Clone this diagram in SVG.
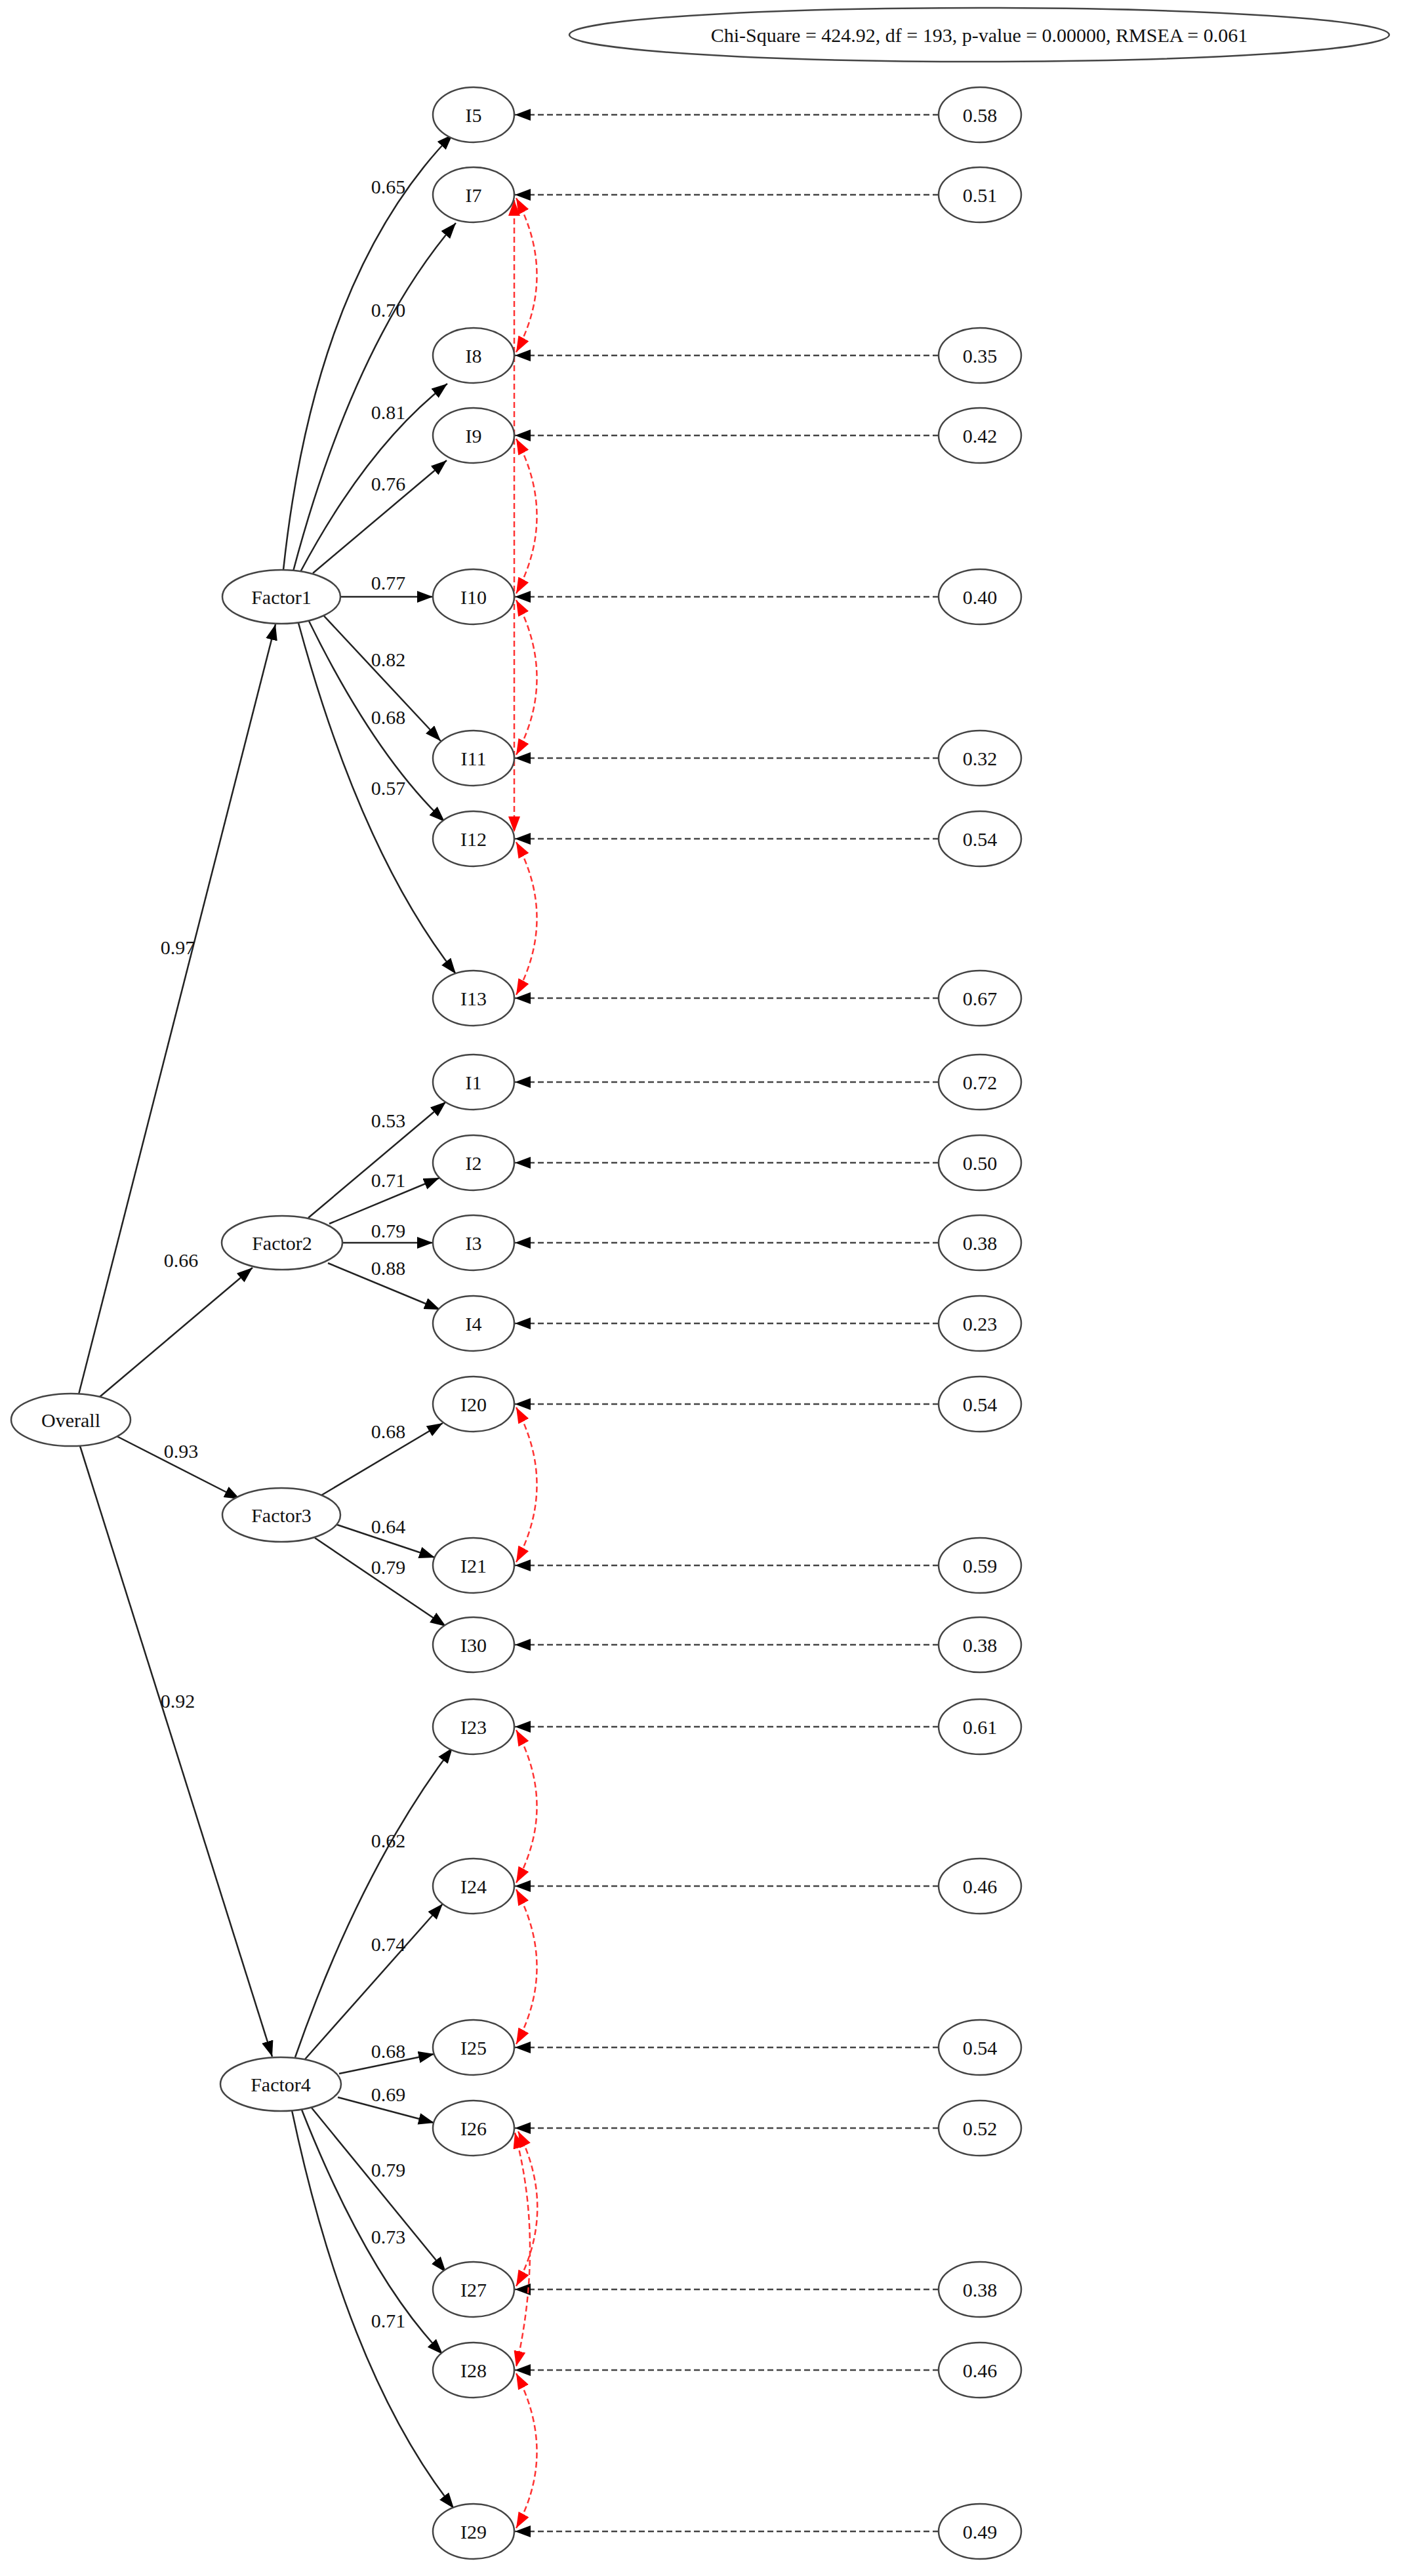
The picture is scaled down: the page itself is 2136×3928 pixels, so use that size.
<svg xmlns="http://www.w3.org/2000/svg" width="2136" height="3928" viewBox="0 0 2136 3928">
<defs>
<style>
.n ellipse{fill:#fff;stroke:#444;stroke-width:2.5}
text{font-family:"Liberation Serif","Times New Roman",serif;font-size:30px;fill:#111;text-anchor:middle;dominant-baseline:central}
.e path{fill:none;stroke:#222;stroke-width:2.5;marker-end:url(#a)}
.r path{fill:none;stroke:#444;stroke-width:2.5;stroke-dasharray:9,5;marker-end:url(#a)}
.c path{fill:none;stroke:#f33;stroke-width:2.5;stroke-dasharray:9,5;marker-end:url(#ar);marker-start:url(#ar)}
</style>
<marker id="a" markerUnits="userSpaceOnUse" markerWidth="26" markerHeight="20" refX="24" refY="9" orient="auto"><path d="M0,0 L24,9 L0,18 z" fill="#000"/></marker>
<marker id="ar" markerUnits="userSpaceOnUse" markerWidth="26" markerHeight="20" refX="24" refY="9" orient="auto-start-reverse"><path d="M0,0 L24,9 L0,18 z" fill="#f00"/></marker>
</defs>
<rect width="2136" height="3928" fill="#fff"/>
<g id="header" class="n"><ellipse cx="1493" cy="53" rx="625" ry="41"/><text x="1493" y="53">Chi-Square = 424.92, df = 193, p-value = 0.00000, RMSEA = 0.061</text></g>
<g id="connectors">
<g class="e">
<path d="M120 2126 L420 952"/>
<path d="M152 2130 L385 1933"/>
<path d="M178 2190 L366 2286"/>
<path d="M122 2205 L415 3136"/>
<path d="M432 869 Q480 420 690 205"/>
<path d="M447 871 Q540 520 695 340"/>
<path d="M458 872 Q560 680 682 585"/>
<path d="M477 874 L681 702"/>
<path d="M519 910 L660 910"/>
<path d="M490 935 L672 1130"/>
<path d="M470 945 Q570 1150 678 1253"/>
<path d="M455 950 Q550 1300 695 1485"/>
<path d="M470 1857 L680 1680"/>
<path d="M502 1866 L670 1796"/>
<path d="M520 1895 L660 1895"/>
<path d="M500 1926 L671 1997"/>
<path d="M490 2280 L675 2170"/>
<path d="M514 2325 L663 2375"/>
<path d="M480 2345 L680 2480"/>
<path d="M450 3137 Q550 2850 690 2665"/>
<path d="M465 3140 L675 2903"/>
<path d="M517 3162 L662 3132"/>
<path d="M515 3198 L662 3237"/>
<path d="M475 3214 L680 3465"/>
<path d="M460 3217 Q560 3470 675 3590"/>
<path d="M445 3218 Q530 3620 692 3825"/>
</g>
<g class="r">
<path d="M1431 175 L785 175"/><path d="M1431 297 L785 297"/><path d="M1431 542 L785 542"/><path d="M1431 664 L785 664"/><path d="M1431 910 L785 910"/><path d="M1431 1156 L785 1156"/><path d="M1431 1279 L785 1279"/><path d="M1431 1522 L785 1522"/><path d="M1431 1650 L785 1650"/><path d="M1431 1773 L785 1773"/><path d="M1431 1895 L785 1895"/><path d="M1431 2018 L785 2018"/><path d="M1431 2141 L785 2141"/><path d="M1431 2387 L785 2387"/><path d="M1431 2508 L785 2508"/><path d="M1431 2633 L785 2633"/><path d="M1431 2876 L785 2876"/><path d="M1431 3122 L785 3122"/><path d="M1431 3245 L785 3245"/><path d="M1431 3491 L785 3491"/><path d="M1431 3614 L785 3614"/><path d="M1431 3860 L785 3860"/>
</g>
<g class="c">
<path d="M787 302 Q850 420 787 537"/>
<path d="M784 305 L784 1269"/>
<path d="M787 669 Q850 787 787 905"/>
<path d="M787 915 Q850 1035 787 1151"/>
<path d="M787 1284 Q850 1400 787 1517"/>
<path d="M787 2146 Q850 2264 787 2382"/>
<path d="M787 2638 Q850 2755 787 2871"/>
<path d="M787 2881 Q850 3000 787 3117"/>
<path d="M790 3250 Q850 3370 787 3486"/>
<path d="M785 3252 Q830 3420 787 3609"/>
<path d="M787 3619 Q850 3740 787 3855"/>
</g>
</g>
<g id="labels">
<text x="271" y="1444">0.97</text><text x="276" y="1921">0.66</text><text x="276" y="2212">0.93</text><text x="271" y="2593">0.92</text>
<text x="592" y="284">0.65</text><text x="592" y="472">0.70</text><text x="592" y="628">0.81</text><text x="592" y="737">0.76</text><text x="592" y="888">0.77</text><text x="592" y="1005">0.82</text><text x="592" y="1093">0.68</text><text x="592" y="1201">0.57</text>
<text x="592" y="1708">0.53</text><text x="592" y="1799">0.71</text><text x="592" y="1876">0.79</text><text x="592" y="1933">0.88</text>
<text x="592" y="2182">0.68</text><text x="592" y="2327">0.64</text><text x="592" y="2389">0.79</text>
<text x="592" y="2806">0.62</text><text x="592" y="2964">0.74</text><text x="592" y="3127">0.68</text><text x="592" y="3193">0.69</text><text x="592" y="3308">0.79</text><text x="592" y="3410">0.73</text><text x="592" y="3538">0.71</text>
</g>
<g id="Overall" class="n"><ellipse cx="108" cy="2165" rx="91" ry="40"/><text x="108" y="2165">Overall</text></g>
<g id="Factor1" class="n"><ellipse cx="429" cy="910" rx="90" ry="41"/><text x="429" y="910">Factor1</text></g>
<g id="Factor2" class="n"><ellipse cx="430" cy="1895" rx="92" ry="41"/><text x="430" y="1895">Factor2</text></g>
<g id="Factor3" class="n"><ellipse cx="429" cy="2310" rx="90" ry="41"/><text x="429" y="2310">Factor3</text></g>
<g id="Factor4" class="n"><ellipse cx="428" cy="3178" rx="92" ry="41"/><text x="428" y="3178">Factor4</text></g>
<g id="I5" class="n"><ellipse cx="722" cy="175" rx="62" ry="42"/><text x="722" y="175">I5</text></g>
<g id="I7" class="n"><ellipse cx="722" cy="297" rx="62" ry="42"/><text x="722" y="297">I7</text></g>
<g id="I8" class="n"><ellipse cx="722" cy="542" rx="62" ry="42"/><text x="722" y="542">I8</text></g>
<g id="I9" class="n"><ellipse cx="722" cy="664" rx="62" ry="42"/><text x="722" y="664">I9</text></g>
<g id="I10" class="n"><ellipse cx="722" cy="910" rx="62" ry="42"/><text x="722" y="910">I10</text></g>
<g id="I11" class="n"><ellipse cx="722" cy="1156" rx="62" ry="42"/><text x="722" y="1156">I11</text></g>
<g id="I12" class="n"><ellipse cx="722" cy="1279" rx="62" ry="42"/><text x="722" y="1279">I12</text></g>
<g id="I13" class="n"><ellipse cx="722" cy="1522" rx="62" ry="42"/><text x="722" y="1522">I13</text></g>
<g id="I1" class="n"><ellipse cx="722" cy="1650" rx="62" ry="42"/><text x="722" y="1650">I1</text></g>
<g id="I2" class="n"><ellipse cx="722" cy="1773" rx="62" ry="42"/><text x="722" y="1773">I2</text></g>
<g id="I3" class="n"><ellipse cx="722" cy="1895" rx="62" ry="42"/><text x="722" y="1895">I3</text></g>
<g id="I4" class="n"><ellipse cx="722" cy="2018" rx="62" ry="42"/><text x="722" y="2018">I4</text></g>
<g id="I20" class="n"><ellipse cx="722" cy="2141" rx="62" ry="42"/><text x="722" y="2141">I20</text></g>
<g id="I21" class="n"><ellipse cx="722" cy="2387" rx="62" ry="42"/><text x="722" y="2387">I21</text></g>
<g id="I30" class="n"><ellipse cx="722" cy="2508" rx="62" ry="42"/><text x="722" y="2508">I30</text></g>
<g id="I23" class="n"><ellipse cx="722" cy="2633" rx="62" ry="42"/><text x="722" y="2633">I23</text></g>
<g id="I24" class="n"><ellipse cx="722" cy="2876" rx="62" ry="42"/><text x="722" y="2876">I24</text></g>
<g id="I25" class="n"><ellipse cx="722" cy="3122" rx="62" ry="42"/><text x="722" y="3122">I25</text></g>
<g id="I26" class="n"><ellipse cx="722" cy="3245" rx="62" ry="42"/><text x="722" y="3245">I26</text></g>
<g id="I27" class="n"><ellipse cx="722" cy="3491" rx="62" ry="42"/><text x="722" y="3491">I27</text></g>
<g id="I28" class="n"><ellipse cx="722" cy="3614" rx="62" ry="42"/><text x="722" y="3614">I28</text></g>
<g id="I29" class="n"><ellipse cx="722" cy="3860" rx="62" ry="42"/><text x="722" y="3860">I29</text></g>
<g id="e5" class="n"><ellipse cx="1494" cy="175" rx="63" ry="42"/><text x="1494" y="175">0.58</text></g>
<g id="e7" class="n"><ellipse cx="1494" cy="297" rx="63" ry="42"/><text x="1494" y="297">0.51</text></g>
<g id="e8" class="n"><ellipse cx="1494" cy="542" rx="63" ry="42"/><text x="1494" y="542">0.35</text></g>
<g id="e9" class="n"><ellipse cx="1494" cy="664" rx="63" ry="42"/><text x="1494" y="664">0.42</text></g>
<g id="e10" class="n"><ellipse cx="1494" cy="910" rx="63" ry="42"/><text x="1494" y="910">0.40</text></g>
<g id="e11" class="n"><ellipse cx="1494" cy="1156" rx="63" ry="42"/><text x="1494" y="1156">0.32</text></g>
<g id="e12" class="n"><ellipse cx="1494" cy="1279" rx="63" ry="42"/><text x="1494" y="1279">0.54</text></g>
<g id="e13" class="n"><ellipse cx="1494" cy="1522" rx="63" ry="42"/><text x="1494" y="1522">0.67</text></g>
<g id="e1" class="n"><ellipse cx="1494" cy="1650" rx="63" ry="42"/><text x="1494" y="1650">0.72</text></g>
<g id="e2" class="n"><ellipse cx="1494" cy="1773" rx="63" ry="42"/><text x="1494" y="1773">0.50</text></g>
<g id="e3" class="n"><ellipse cx="1494" cy="1895" rx="63" ry="42"/><text x="1494" y="1895">0.38</text></g>
<g id="e4" class="n"><ellipse cx="1494" cy="2018" rx="63" ry="42"/><text x="1494" y="2018">0.23</text></g>
<g id="e20" class="n"><ellipse cx="1494" cy="2141" rx="63" ry="42"/><text x="1494" y="2141">0.54</text></g>
<g id="e21" class="n"><ellipse cx="1494" cy="2387" rx="63" ry="42"/><text x="1494" y="2387">0.59</text></g>
<g id="e30" class="n"><ellipse cx="1494" cy="2508" rx="63" ry="42"/><text x="1494" y="2508">0.38</text></g>
<g id="e23" class="n"><ellipse cx="1494" cy="2633" rx="63" ry="42"/><text x="1494" y="2633">0.61</text></g>
<g id="e24" class="n"><ellipse cx="1494" cy="2876" rx="63" ry="42"/><text x="1494" y="2876">0.46</text></g>
<g id="e25" class="n"><ellipse cx="1494" cy="3122" rx="63" ry="42"/><text x="1494" y="3122">0.54</text></g>
<g id="e26" class="n"><ellipse cx="1494" cy="3245" rx="63" ry="42"/><text x="1494" y="3245">0.52</text></g>
<g id="e27" class="n"><ellipse cx="1494" cy="3491" rx="63" ry="42"/><text x="1494" y="3491">0.38</text></g>
<g id="e28" class="n"><ellipse cx="1494" cy="3614" rx="63" ry="42"/><text x="1494" y="3614">0.46</text></g>
<g id="e29" class="n"><ellipse cx="1494" cy="3860" rx="63" ry="42"/><text x="1494" y="3860">0.49</text></g>
</svg>
